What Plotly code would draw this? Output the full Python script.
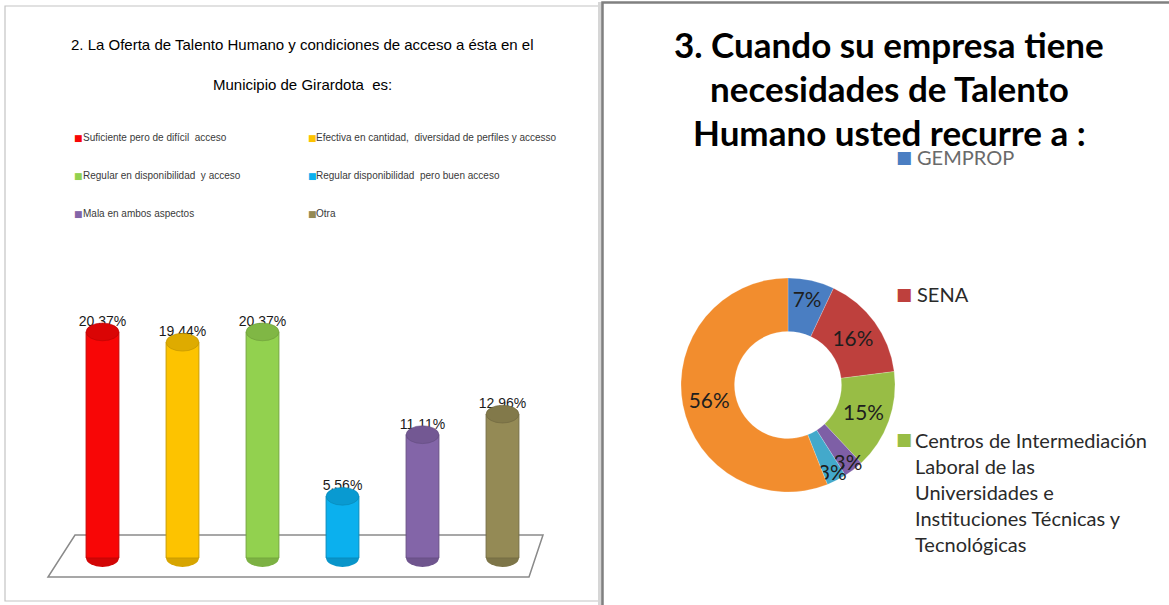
"""Two survey charts side by side: talent offer (3-D style columns) and where companies recruit (donut)."""

import plotly.graph_objects as go

W, H = 1169, 605

# Pregunta 2 -- oferta de talento humano
oferta_cats = [
    "Suficiente pero de difícil  acceso",
    "Efectiva en cantidad,  diversidad de perfiles y accesso",
    "Regular en disponibilidad  y acceso",
    "Regular disponibilidad  pero buen acceso",
    "Mala en ambos aspectos",
    "Otra",
]
oferta_vals = [20.37, 19.44, 20.37, 5.56, 11.11, 12.96]
oferta_colors = ["#f80606", "#fdc300", "#92d14f", "#0bb0ee", "#8365a8", "#948a55"]

# Pregunta 3 -- a quien recurre la empresa
recurso_labels = [
    "GEMPROP",
    "SENA",
    "Centros de Intermediación Laboral de las Universidades e Instituciones Técnicas y Tecnológicas",
    "Opción 4",
    "Opción 5",
    "Opción 6",
]
recurso_vals = [7, 16, 15, 3, 3, 56]
recurso_colors = ["#4a7ec2", "#be403d", "#98bd45", "#7e5fa6", "#43a9cb", "#f28d2e"]
# only the first three entries survive in the original legend
recurso_legend_wrapped = [
    "GEMPROP",
    "SENA",
    "Centros de Intermediación<br>Laboral de las<br>Universidades e<br>Instituciones Técnicas y<br>Tecnológicas",
]

NARROW = "Liberation Sans, Arial, sans-serif"
CALIBRI = "Lato, Carlito, Calibri, sans-serif"


def px(x):
    return x / W


def py(y):
    return 1 - y / H


def shade(hex_color, k):
    r, g, b = (int(hex_color[i:i + 2], 16) for i in (1, 3, 5))
    return "#{:02x}{:02x}{:02x}".format(int(r * k), int(g * k), int(b * k))


fig = go.Figure()

BAR_W = 0.41
CAP = 0.8  # half height of the cylinder ends, in data units

for i, (cat, val, col) in enumerate(zip(oferta_cats, oferta_vals, oferta_colors)):
    fig.add_bar(
        x=[cat], y=[val], name=cat, width=BAR_W,
        marker={"color": col, "line": {"color": shade(col, 0.8), "width": 1}},
        texttemplate="%{y:.2f}%", textposition="outside", cliponaxis=False,
        constraintext="none",
        textfont={"family": NARROW, "size": 14, "color": "#1a1a1a"},
        showlegend=False, xaxis="x", yaxis="y",
    )
    # cylinder ends
    fig.add_shape(type="circle", xref="x", yref="y", layer="below",
                  x0=i - BAR_W / 2, x1=i + BAR_W / 2, y0=-CAP, y1=CAP,
                  fillcolor=shade(col, 0.85), line_width=0)
    fig.add_shape(type="circle", xref="x", yref="y", layer="above",
                  x0=i - BAR_W / 2, x1=i + BAR_W / 2, y0=val - CAP, y1=val + CAP,
                  fillcolor=shade(col, 0.88), line={"color": shade(col, 0.75), "width": 0.6})

fig.add_pie(
    labels=recurso_labels, values=recurso_vals, hole=0.5, sort=False,
    direction="clockwise", rotation=0,
    marker={"colors": recurso_colors, "line": {"color": "rgba(255,255,255,0.4)", "width": 0.5}},
    texttemplate="%{percent:.0%}", textposition="inside", insidetextorientation="horizontal",
    textfont={"family": CALIBRI, "size": 23, "color": "#1e1e1e"},
    showlegend=False,
    domain={"x": [px(681), px(895)], "y": [py(492), py(278)]},
)

# panel frames and the 3-D floor under the columns
shapes = [
    dict(type="rect", xref="paper", yref="paper", layer="below",
         x0=px(5), x1=px(599), y0=py(601), y1=py(6), line={"color": "#c4c4c4", "width": 1.2}),
    dict(type="rect", xref="paper", yref="paper", layer="below",
         x0=px(598), x1=px(602), y0=py(605), y1=py(2), fillcolor="#d6d6d6", line_width=0),
    dict(type="rect", xref="paper", yref="paper", layer="below",
         x0=px(602.5), x1=px(1175), y0=py(615), y1=py(2.5), line={"color": "#808080", "width": 2.5}),
    dict(type="path", xref="paper", yref="paper", layer="below",
         path=f"M{px(75)},{py(535)} L{px(543)},{py(535)} L{px(529)},{py(577)} L{px(48)},{py(577)} Z",
         fillcolor="white", line={"color": "#8a8a8a", "width": 1.5}),
]
for s in shapes:
    fig.add_shape(**s)

ann = []
# left legend, two columns, row-major like the original
for i, (cat, col) in enumerate(zip(oferta_cats, oferta_colors)):
    c, r = i % 2, i // 2
    yy = py(137.5 + r * 38)
    ann.append(dict(x=px([72, 306][c]), y=yy, text=f"<span style='color:{col}'>■</span>",
                    font={"family": "DejaVu Sans", "size": 9}))
    ann.append(dict(x=px([81, 314][c]), y=yy, text=cat,
                    font={"family": NARROW, "size": 10, "color": "#3a3a3a"}))

# right legend (GEMPROP first so the title is drawn over it)
for lbl, col, yc in zip(recurso_legend_wrapped, recurso_colors, [157, 294, 439]):
    ann.append(dict(x=px(894), y=py(yc), text=f"<span style='color:{col}'>■</span>",
                    font={"family": "DejaVu Sans", "size": 17}))
    if "<br>" in lbl:
        ann.append(dict(x=px(913), y=py(yc - 13), yanchor="top", text=lbl,
                        font={"family": CALIBRI, "size": 20, "color": "#2a2a2a"}))
    else:
        ann.append(dict(x=px(915), y=py(yc), text=lbl,
                        font={"family": CALIBRI, "size": 20,
                              "color": "#6a6a6a" if lbl == "GEMPROP" else "#2a2a2a"}))

for k, line in enumerate(["2. La Oferta de Talento Humano y condiciones de acceso a ésta en el",
                          "Municipio de Girardota  es:"]):
    ann.append(dict(x=px(302.5), y=py(45 + 40 * k), xanchor="center", text=line,
                    font={"family": NARROW, "size": 15, "color": "#000000"}))

for k, line in enumerate(["3. Cuando su empresa tiene", "necesidades de Talento",
                          "Humano usted recurre a :"]):
    ann.append(dict(x=px(889), y=py(44 + 44 * k), xanchor="center", text=line,
                    font={"family": CALIBRI, "size": 35, "color": "#000000", "weight": "bold"}))

for a in ann:
    a.setdefault("xanchor", "left")
    a.setdefault("yanchor", "middle")
    fig.add_annotation(xref="paper", yref="paper", showarrow=False, align="left", **a)

# y = 0 sits on pixel row 558, ~11.1 px per percentage point
fig.update_layout(
    width=W, height=H,
    margin={"l": 0, "r": 0, "t": 0, "b": 0},
    paper_bgcolor="white", plot_bgcolor="rgba(0,0,0,0)",
    barmode="overlay", separators=",.",
    uniformtext={"minsize": 14, "mode": "show"},
    xaxis={"domain": [px(62.5), px(542.5)], "range": [-0.5, 5.5], "visible": False,
           "fixedrange": True},
    yaxis={"domain": [py(574.65), py(280.5)], "range": [-1.5, 25], "visible": False,
           "fixedrange": True},
    showlegend=False,
)

# drop the browser's default 8px body margin so the figure fills the window
fig.write_html("out.html", config={"displayModeBar": False},
               post_script="document.body.style.margin = '0px';")
